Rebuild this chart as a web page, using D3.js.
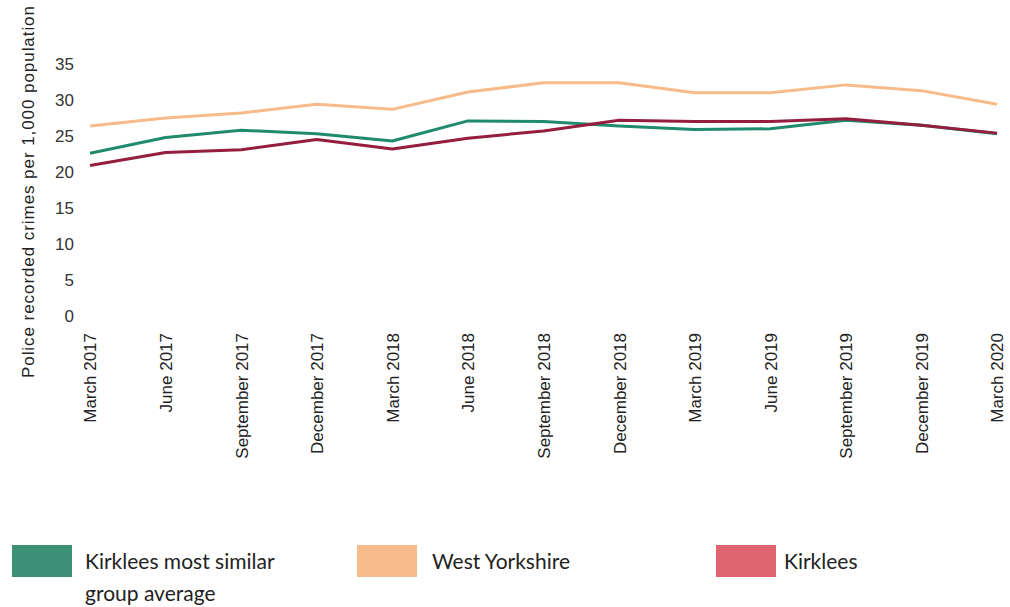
<!DOCTYPE html>
<html><head><meta charset="utf-8">
<script src="https://cdn.jsdelivr.net/npm/d3@7"></script>
<style>
body{margin:0;background:#fff;}
svg{display:block;}
</style></head>
<body>
<svg id="chart" width="1010" height="607"></svg>
<script>
const categories = ["March 2017","June 2017","September 2017","December 2017","March 2018","June 2018","September 2018","December 2018","March 2019","June 2019","September 2019","December 2019","March 2020"];
const similarGroup = [22.6,24.8,25.8,25.3,24.3,27.1,27.0,26.4,25.9,26.0,27.2,26.5,25.3];
const westYorkshire = [26.4,27.5,28.2,29.4,28.7,31.1,32.4,32.4,31.0,31.0,32.1,31.3,29.4];
const kirklees = [20.9,22.7,23.1,24.5,23.2,24.7,25.7,27.2,27.0,27.0,27.4,26.5,25.4];
const yTicks = [0,5,10,15,20,25,30,35];
const seriesNames = ["Kirklees most similar group average","West Yorkshire","Kirklees"];

const svg = d3.select("#chart");
const x = d3.scalePoint().domain(categories).range([90, 997]);
const y = d3.scaleLinear().domain([0, 35]).range([316, 64]);

const series = [
  {name: seriesNames[1], values: westYorkshire, line: "#f6bb88"},
  {name: seriesNames[0], values: similarGroup, line: "#1f8a6c"},
  {name: seriesNames[2], values: kirklees, line: "#951d3d"}
];

const axisFont = "Liberation Sans, Arial, sans-serif";

// Y axis
const yAxis = d3.axisLeft(y).tickValues(yTicks).tickSize(0).tickPadding(0);
const gy = svg.append("g").attr("transform","translate(74,0)").call(yAxis);
gy.select(".domain").remove();
gy.selectAll("text").attr("font-family",axisFont).attr("font-size",17).attr("fill","#333");

// X axis
const xAxis = d3.axisBottom(x).tickSize(0).tickPadding(0);
const gx = svg.append("g").attr("transform","translate(0,333)").call(xAxis);
gx.select(".domain").remove();
gx.selectAll("text")
  .attr("font-family",axisFont).attr("font-size",17).attr("fill","#222")
  .attr("text-anchor","end").attr("dy","0.35em").attr("y",0)
  .attr("transform","rotate(-90)");

// Y title
svg.append("text")
  .attr("transform","translate(34,192) rotate(-90)")
  .attr("text-anchor","middle")
  .attr("font-family",axisFont).attr("font-size",17).attr("fill","#222")
  .attr("textLength",372).attr("lengthAdjust","spacing")
  .text("Police recorded crimes per 1,000 population");

// Lines
const line = d3.line().x((d,i)=>x(categories[i])).y(d=>y(d));
series.forEach(s=>{
  svg.append("path").datum(s.values)
    .attr("fill","none").attr("stroke",s.line).attr("stroke-width",3)
    .attr("stroke-linejoin","round").attr("d",line);
});

// Legend
const legendItems = [
  {color: "#3a8f74", x: 12, tx: 85, lines:["Kirklees most similar","group average"]},
  {color: "#f8bb8b", x: 357, tx: 432, lines:["West Yorkshire"]},
  {color: "#de6470", x: 716, tx: 784, lines:["Kirklees"]}
];
const lg = svg.append("g");
legendItems.forEach(it=>{
  lg.append("rect").attr("x",it.x).attr("y",545).attr("width",60).attr("height",32).attr("fill",it.color);
  it.lines.forEach((t,i)=>{
    lg.append("text").attr("x",it.tx).attr("y",569+i*32)
      .attr("font-family","Lato, sans-serif").attr("font-size",21).attr("fill","#222").text(t);
  });
});
</script>
</body></html>
